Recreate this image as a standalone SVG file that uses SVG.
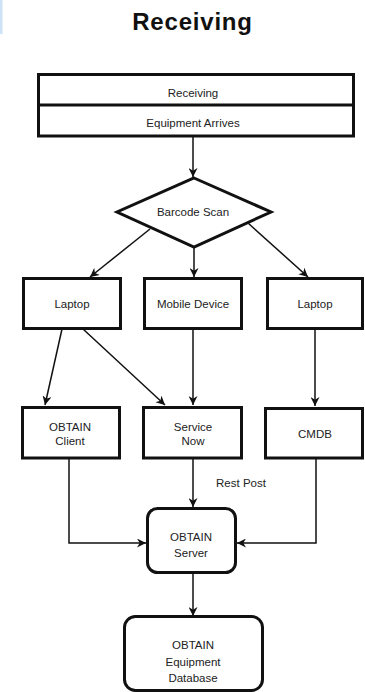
<svg xmlns="http://www.w3.org/2000/svg" width="365" height="692" viewBox="0 0 365 692">
<style>
.box{fill:#fff;stroke:#111;stroke-width:3}
.ln{fill:none;stroke:#111;stroke-width:1.5}
.t{font-family:"Liberation Sans",Arial,sans-serif;font-size:11.5px;fill:#222;text-anchor:middle}
.title{font-family:"Liberation Sans",Arial,sans-serif;font-size:24px;font-weight:bold;fill:#111;text-anchor:middle}
</style>
<defs>
<marker id="ah" viewBox="0 0 10 10" refX="10" refY="5" markerWidth="10" markerHeight="9" markerUnits="userSpaceOnUse" orient="auto">
<path d="M0,0 L10,5 L0,10 L3,5 Z" fill="#111"/>
</marker>
</defs>
<rect width="365" height="692" fill="#fff"/>
<rect x="0" y="0" width="2.5" height="34" fill="#cfe3f7"/>
<text class="title" x="192.5" y="30" letter-spacing="0.8">Receiving</text>

<g id="connectors">
<line class="ln" x1="193" y1="136" x2="193" y2="177" marker-end="url(#ah)"/>
<line class="ln" x1="150" y1="229" x2="90" y2="277" marker-end="url(#ah)"/>
<line class="ln" x1="194" y1="247" x2="194" y2="277" marker-end="url(#ah)"/>
<line class="ln" x1="248" y1="223" x2="308" y2="277" marker-end="url(#ah)"/>
<line class="ln" x1="62" y1="329" x2="45" y2="405" marker-end="url(#ah)"/>
<line class="ln" x1="83" y1="329" x2="165" y2="405" marker-end="url(#ah)"/>
<line class="ln" x1="193" y1="329" x2="193" y2="405" marker-end="url(#ah)"/>
<line class="ln" x1="315" y1="329" x2="315" y2="406" marker-end="url(#ah)"/>
<line class="ln" x1="193" y1="459" x2="193" y2="507" marker-end="url(#ah)"/>
<polyline class="ln" points="69,459 69,543 146,543" marker-end="url(#ah)"/>
<polyline class="ln" points="316,459 316,543 237,543" marker-end="url(#ah)"/>
<line class="ln" x1="193" y1="573" x2="193" y2="616" marker-end="url(#ah)"/>
<text class="t" x="241" y="487" font-size="12">Rest Post</text>
</g>

<g id="receiving">
<rect class="box" x="38.5" y="74.5" width="315" height="61.5"/>
<line x1="38.5" y1="105" x2="353.5" y2="105" stroke="#111" stroke-width="3"/>
<text class="t" x="193" y="97" font-size="12">Receiving</text>
<text class="t" x="193" y="127" font-size="12">Equipment Arrives</text>
</g>

<g id="barcode">
<polygon class="box" points="194,178 271,212 194,247 117,212"/>
<text class="t" x="193" y="216">Barcode Scan</text>
</g>

<g id="laptop1">
<rect class="box" x="23.5" y="278.5" width="97" height="50"/>
<text class="t" x="72" y="308">Laptop</text>
</g>
<g id="mobile">
<rect class="box" x="144.5" y="278.5" width="97" height="50"/>
<text class="t" x="193" y="308">Mobile Device</text>
</g>
<g id="laptop2">
<rect class="box" x="267.5" y="278.5" width="95" height="50"/>
<text class="t" x="315" y="308">Laptop</text>
</g>

<g id="obtainclient">
<rect class="box" x="22.5" y="407.5" width="97" height="50.5"/>
<text class="t" x="70" y="431">OBTAIN</text>
<text class="t" x="70" y="445">Client</text>
</g>
<g id="servicenow">
<rect class="box" x="143.5" y="407.5" width="98" height="50.5"/>
<text class="t" x="193" y="431">Service</text>
<text class="t" x="193" y="445">Now</text>
</g>
<g id="cmdb">
<rect class="box" x="265.5" y="408.5" width="97" height="49.5"/>
<text class="t" x="315" y="438">CMDB</text>
</g>

<g id="obtainserver">
<rect class="box" x="147.5" y="508.5" width="88" height="64" rx="10"/>
<text class="t" x="191" y="541">OBTAIN</text>
<text class="t" x="191" y="557">Server</text>
</g>

<g id="database">
<rect class="box" x="124.5" y="616.5" width="138" height="74" rx="11"/>
<text class="t" x="193" y="649">OBTAIN</text>
<text class="t" x="193" y="666">Equipment</text>
<text class="t" x="193" y="682">Database</text>
</g>
</svg>
